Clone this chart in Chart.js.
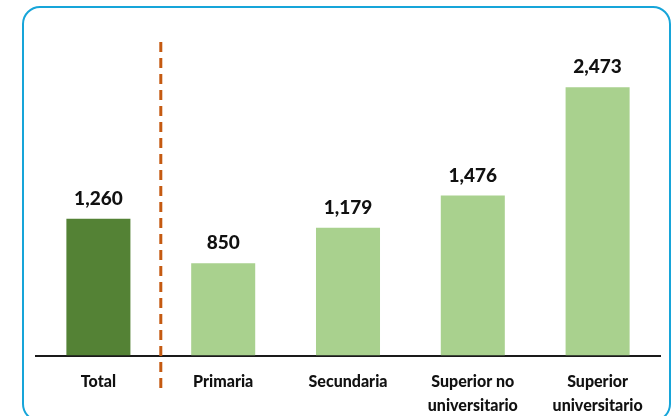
<!DOCTYPE html>
<html>
<head>
<meta charset="utf-8">
<script src="https://cdn.jsdelivr.net/npm/chart.js@4.4.1/dist/chart.umd.min.js"></script>
<style>
  html, body { margin: 0; padding: 0; background: #fff; overflow: hidden; }
  #wrap { position: relative; width: 672px; height: 416px; overflow: hidden; }
  #frame {
    position: absolute; left: 22px; top: 6px; width: 649px; height: 416px;
    border: 2.5px solid #17a5d9; border-radius: 18px; box-sizing: border-box;
  }
  canvas { position: absolute; left: 0; top: 0; }
</style>
</head>
<body>
<div id="wrap">
  <div id="frame"></div>
  <canvas id="salaryChart" width="672" height="416"></canvas>
</div>
<script>
// data
var categories = ['Total', 'Primaria', 'Secundaria', ['Superior no', 'universitario'], ['Superior', 'universitario']];
var values = [1260, 850, 1179, 1476, 2473];
var barColors = ['#548235', '#a9d18e', '#a9d18e', '#a9d18e', '#a9d18e'];

var fontFamily = 'Lato, "Open Sans", sans-serif';

// dashed separator between "Total" and the rest
var separatorPlugin = {
  id: 'separator',
  afterDatasetsDraw: function (chart) {
    var ctx = chart.ctx;
    var x = chart.scales.x;
    var xPos = (x.getPixelForValue(0) + x.getPixelForValue(1)) / 2;
    ctx.save();
    ctx.strokeStyle = '#c55a11';
    ctx.lineWidth = 3;
    ctx.setLineDash([10, 6]);
    ctx.beginPath();
    ctx.moveTo(xPos, chart.chartArea.top + 12);
    ctx.lineTo(xPos, chart.chartArea.bottom + 36);
    ctx.stroke();
    ctx.restore();
  }
};

// value labels above bars
var valueLabelPlugin = {
  id: 'valueLabels',
  afterDatasetsDraw: function (chart) {
    var ctx = chart.ctx;
    var meta = chart.getDatasetMeta(0);
    ctx.save();
    ctx.fillStyle = '#111';
    ctx.font = '900 19px ' + fontFamily;
    ctx.textAlign = 'center';
    ctx.textBaseline = 'middle';
    meta.data.forEach(function (bar, i) {
      ctx.fillText(values[i].toLocaleString('en-US'), bar.x, bar.y - 20);
    });
    ctx.restore();
  }
};

var chartContext = document.getElementById('salaryChart').getContext('2d');
var chart = new Chart(chartContext, {
  type: 'bar',
  data: {
    labels: categories,
    datasets: [{
      data: values,
      backgroundColor: barColors,
      borderWidth: 0,
      categoryPercentage: 1,
      barPercentage: 0.513
    }]
  },
  options: {
    responsive: false,
    animation: false,
    layout: { padding: { left: 36, right: 12, top: 30, bottom: -16 } },
    plugins: {
      legend: { display: false },
      tooltip: { enabled: false }
    },
    scales: {
      y: {
        display: false,
        min: 0,
        max: 3000
      },
      x: {
        grid: { display: false, drawTicks: false },
        border: { display: true, color: '#1a1a1a', width: 2 },
        ticks: {
          color: '#111',
          padding: 15,
          maxRotation: 0,
          autoSkip: false,
          font: { family: fontFamily, size: 16, weight: '900', lineHeight: 1.45 }
        }
      }
    }
  },
  plugins: [separatorPlugin, valueLabelPlugin]
});
</script>
</body>
</html>
